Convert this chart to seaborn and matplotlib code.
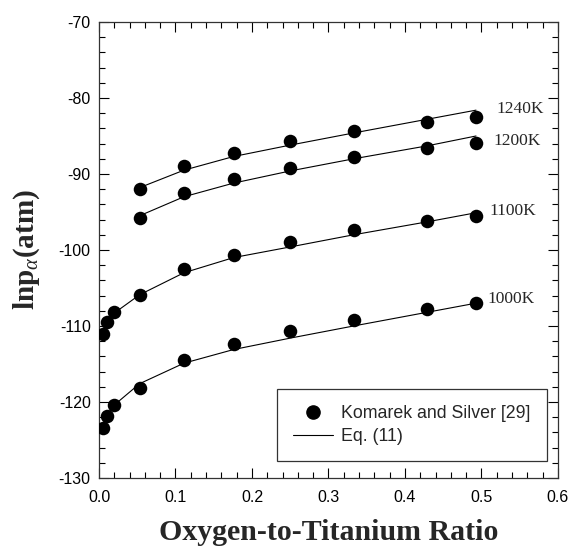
import matplotlib
matplotlib.use("Agg")
import matplotlib.pyplot as plt
from matplotlib.ticker import MultipleLocator, FormatStrFormatter
from matplotlib.lines import Line2D
import pandas as pd
import seaborn as sns

# O/Ti ratio of the measurements
x_all = [0.005, 0.01, 0.02, 0.053, 0.111, 0.176, 0.25, 0.333, 0.429, 0.493]
x_hi = x_all[3:]

# Komarek and Silver data points
pts_1240 = [-92.0, -89.0, -87.3, -85.7, -84.3, -83.2, -82.5]
pts_1200 = [-95.8, -92.5, -90.7, -89.2, -87.7, -86.6, -85.9]
pts_1100 = [-111.1, -109.5, -108.2, -105.9, -102.5, -100.6, -99.0, -97.4, -96.2, -95.5]
pts_1000 = [-123.4, -121.8, -120.4, -118.1, -114.5, -112.4, -110.7, -109.2, -107.8, -107.0]

# Eq. (11) curves
fit_1240 = [-91.8, -89.5, -87.7, -86.2, -84.6, -82.8, -81.6]
fit_1200 = [-95.5, -93.0, -91.2, -89.6, -88.0, -86.3, -85.0]
fit_1100 = [-111.0, -109.7, -108.3, -105.9, -103.0, -101.0, -99.6, -98.0, -96.3, -95.1]
fit_1000 = [-123.0, -121.8, -120.4, -117.6, -114.9, -113.1, -111.6, -110.0, -108.2, -107.0]

temps = ["1240K", "1200K", "1100K", "1000K"]
label_pos = [(0.520, -81.5), (0.516, -85.7), (0.510, -94.9), (0.508, -106.5)]

series = [
    (x_hi, pts_1240, fit_1240),
    (x_hi, pts_1200, fit_1200),
    (x_all, pts_1100, fit_1100),
    (x_all, pts_1000, fit_1000),
]

sns.set_style("ticks")
plt.rcParams["font.family"] = ["Liberation Sans", "DejaVu Sans"]
plt.rcParams["axes.unicode_minus"] = False
plt.rcParams["mathtext.fontset"] = "custom"
plt.rcParams["mathtext.rm"] = "Liberation Serif"
plt.rcParams["mathtext.it"] = "Liberation Serif:italic"
plt.rcParams["mathtext.bf"] = "Liberation Serif:bold"

fig = plt.figure(figsize=(5.71, 5.5), dpi=100)
ax = fig.add_axes([0.1734, 0.131, 0.8036, 0.829])

for t, (xs, pts, fit) in zip(temps, series):
    df_pts = pd.DataFrame({"x": xs, "y": pts})
    df_fit = pd.DataFrame({"x": xs, "y": fit})
    sns.lineplot(data=df_fit, x="x", y="y", color="black", linewidth=0.8,
                 ax=ax, legend=False, zorder=2)
    sns.scatterplot(data=df_pts, x="x", y="y", color="black", s=95,
                    edgecolor="black", linewidth=0, ax=ax, legend=False, zorder=3)

for t, (lx, ly) in zip(temps, label_pos):
    ax.text(lx, ly, t, fontsize=12.5, family="Liberation Serif", va="center", ha="left")

ax.set_xlim(0, 0.6)
ax.set_ylim(-130, -70)
ax.xaxis.set_major_locator(MultipleLocator(0.1))
ax.xaxis.set_minor_locator(MultipleLocator(0.02))
ax.yaxis.set_major_locator(MultipleLocator(10))
ax.yaxis.set_minor_locator(MultipleLocator(2))
ax.xaxis.set_major_formatter(FormatStrFormatter("%.1f"))
ax.tick_params(which="both", direction="in", top=True, right=True,
               labelsize=11.5, colors="black", width=0.8)
ax.tick_params(which="major", length=7)
ax.tick_params(axis="x", which="major", pad=9)
ax.tick_params(axis="y", which="major", pad=6)
ax.tick_params(which="minor", length=4)
for sp in ax.spines.values():
    sp.set_visible(True)
    sp.set_linewidth(0.9)
    sp.set_color("#333333")

ax.set_xlabel("Oxygen-to-Titanium Ratio", fontsize=21.5, fontweight="bold",
              family="Liberation Serif", labelpad=10)
ax.set_ylabel(r"$\mathbf{lnp}_{\alpha}\mathbf{(atm)}$", fontsize=21, labelpad=12)

handles = [
    Line2D([], [], marker="o", color="black", linestyle="none", markersize=9.5),
    Line2D([], [], color="black", linewidth=0.8),
]
leg = ax.legend(handles, ["Komarek and Silver [29]", "Eq. (11)"],
                loc="lower right", bbox_to_anchor=(0.976, 0.037), borderaxespad=0,
                fontsize=12.8, frameon=True, fancybox=False, handlelength=2.2,
                handletextpad=0.5, borderpad=0.9, labelspacing=0.35)
leg.get_frame().set_edgecolor("black")
leg.get_frame().set_linewidth(0.9)

fig.savefig("out.png", dpi=100)
